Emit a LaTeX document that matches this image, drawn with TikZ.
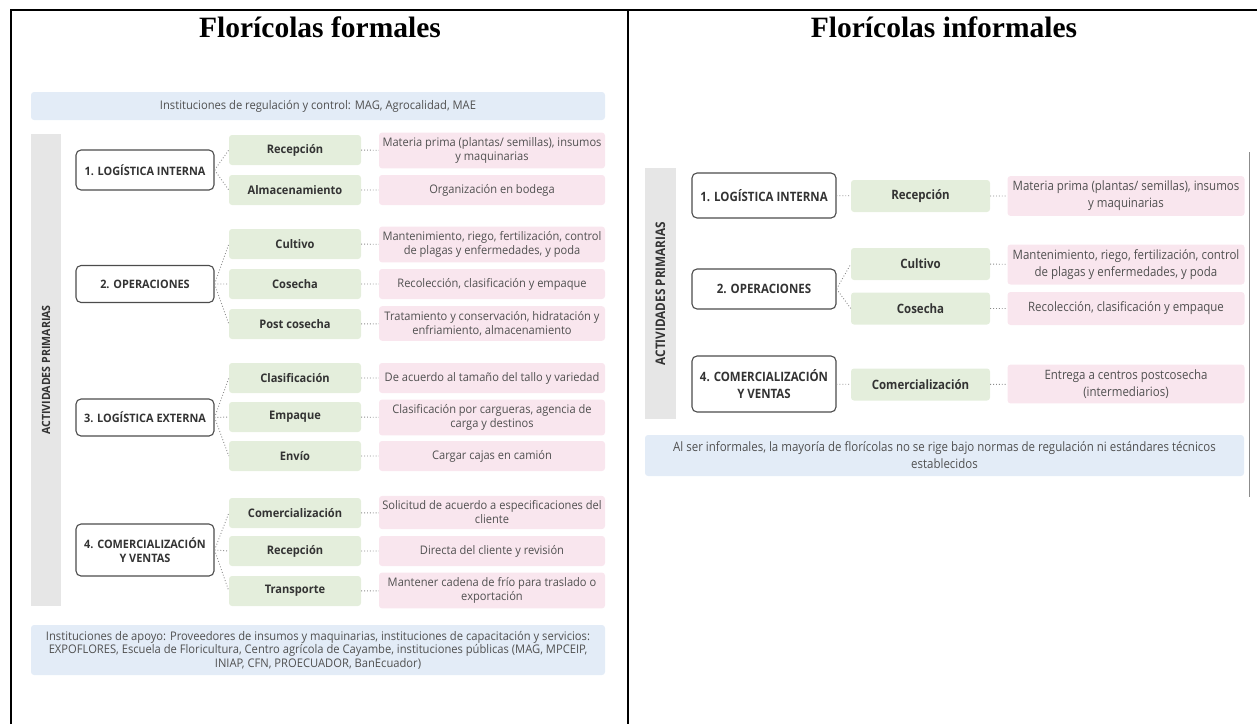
\documentclass[tikz,border=0pt]{standalone}
\usepackage{fontspec}
\setmainfont{Liberation Serif}
\newfontfamily\diagfont[FakeStretch=0.94]{Open Sans}
\newfontfamily\diagfontR[FakeStretch=0.89]{Open Sans}
\usepackage{tikz}
\definecolor{infoblue}{HTML}{E3ECF7}
\definecolor{actgreen}{HTML}{E4EEDC}
\definecolor{descpink}{HTML}{F9E6EE}
\definecolor{bandgray}{HTML}{E6E6E6}
\definecolor{inktext}{HTML}{333333}
\definecolor{desctext}{HTML}{505050}

\begin{document}
\begin{tikzpicture}[x=1pt, y=-1pt,
        etapa/.style={draw=black!70, line width=1.1pt, fill=white, rounded corners=5pt,
            minimum width=138pt, minimum height=37pt, align=center, text=inktext,
            font=\diagfont\bfseries\fontsize{11.6}{14}\selectfont},
        actividad/.style={fill=actgreen, rounded corners=3pt, minimum width=132pt,
            minimum height=30pt, text=inktext, font=\diagfont\bfseries\fontsize{11.8}{14}\selectfont},
        detalle/.style={fill=descpink, rounded corners=3pt, minimum width=226pt, inner xsep=2pt,
            inner ysep=5pt, minimum height=30pt, align=center, text=desctext,
            font=\diagfont\fontsize{11.8}{14}\selectfont},
        institucion/.style={fill=infoblue, rounded corners=3pt, align=center, text=desctext,
            font=\diagfont\fontsize{11.9}{13.5}\selectfont},
        banda/.style={fill=bandgray, rotate=90, minimum height=30pt, text=inktext,
            font=\diagfont\bfseries\fontsize{11.3}{12}\selectfont},
        derecha/.style={font=\diagfontR\fontsize{12.9}{17}\selectfont},
        enlace/.style={draw=black!45, line width=0.9pt, dash pattern=on 0.9pt off 2pt}]
    \useasboundingbox (0,0) rectangle (1257,724);

    \draw[line width=2pt] (11,724) -- (11,10) -- (1257,10);
    \draw[line width=2pt] (628,10) -- (628,724);
    \draw[black!45, line width=0.8pt] (1249,152) -- (1249,497);

    \node (tituloF) at (320,27) {\fontsize{29.5}{31}\selectfont\bfseries Florícolas formales};
    \node (tituloI) at (944,27) {\fontsize{29.5}{31}\selectfont\bfseries Florícolas informales};

    \node[institucion, minimum width=574pt, minimum height=28pt] (regF) at (318,106)
        {Instituciones de regulación y control: MAG, Agrocalidad, MAE};
    \node[banda, minimum width=472pt] (bandaF) at (46,370) {ACTIVIDADES PRIMARIAS};

    \node[etapa, minimum height=40pt] (logintF) at (145,170) {1. LOGÍSTICA INTERNA};
    \node[etapa] (operF) at (145,284) {2. OPERACIONES};
    \node[etapa] (logextF) at (145,417.5) {3. LOGÍSTICA EXTERNA};
    \node[etapa, minimum height=52pt] (comercF) at (145,550) {4. COMERCIALIZACIÓN\\Y VENTAS};

    \node[actividad] (recepF) at (295,150) {Recepción};
    \node[actividad] (almacF) at (295,190) {Almacenamiento};
    \node[actividad] (cultivoF) at (295,244) {Cultivo};
    \node[actividad] (cosechaF) at (295,284) {Cosecha};
    \node[actividad] (postF) at (295,324) {Post cosecha};
    \node[actividad] (clasifF) at (295,378) {Clasificación};
    \node[actividad] (empaqueF) at (295,417) {Empaque};
    \node[actividad] (envioF) at (295,456) {Envío};
    \node[actividad] (comerF) at (295,513) {Comercialización};
    \node[actividad] (recepcF) at (295,551) {Recepción};
    \node[actividad] (transpF) at (295,591) {Transporte};

    \node[detalle] (dRecepF) at (492,150.5) {Materia prima (plantas/ semillas), insumos\\y maquinarias};
    \node[detalle] (dAlmacF) at (492,190) {Organización en bodega};
    \node[detalle] (dCultivoF) at (492,244.5) {Mantenimiento, riego, fertilización, control\\de plagas y enfermedades, y poda};
    \node[detalle] (dCosechaF) at (492,284) {Recolección, clasificación y empaque};
    \node[detalle] (dPostF) at (492,323.5) {Tratamiento y conservación, hidratación y\\enfriamiento, almacenamiento};
    \node[detalle] (dClasifF) at (492,378) {De acuerdo al tamaño del tallo y variedad};
    \node[detalle] (dEmpaqueF) at (492,417.5) {Clasificación por cargueras, agencia de\\carga y destinos};
    \node[detalle] (dEnvioF) at (492,456) {Cargar cajas en camión};
    \node[detalle] (dComerF) at (492,512.5) {Solicitud de acuerdo a especificaciones del\\cliente};
    \node[detalle] (dRecepcF) at (492,551) {Directa del cliente y revisión};
    \node[detalle] (dTranspF) at (492,590.5) {Mantener cadena de frío para traslado o\\exportación};

    \draw[enlace] (logintF.east) -- (recepF.west) (logintF.east) -- (almacF.west);
    \draw[enlace] (operF.east) -- (cultivoF.west) (operF.east) -- (cosechaF.west)
        (operF.east) -- (postF.west);
    \draw[enlace] (logextF.east) -- (clasifF.west) (logextF.east) -- (empaqueF.west)
        (logextF.east) -- (envioF.west);
    \draw[enlace] (comercF.east) -- (comerF.west) (comercF.east) -- (recepcF.west)
        (comercF.east) -- (transpF.west);
    \draw[enlace] (recepF) -- (dRecepF) (almacF) -- (dAlmacF) (cultivoF) -- (dCultivoF)
        (cosechaF) -- (dCosechaF) (postF) -- (dPostF) (clasifF) -- (dClasifF)
        (empaqueF) -- (dEmpaqueF) (envioF) -- (dEnvioF) (comerF) -- (dComerF)
        (recepcF) -- (dRecepcF) (transpF) -- (dTranspF);

    \node[institucion, minimum width=574pt, minimum height=50pt] (apoyoF) at (318,650)
        {Instituciones de apoyo: Proveedores de insumos y maquinarias, instituciones de capacitación y servicios:\\
         EXPOFLORES, Escuela de Floricultura, Centro agrícola de Cayambe, instituciones públicas (MAG, MPCEIP,\\
         INIAP, CFN, PROECUADOR, BanEcuador)};

    \node[banda, minimum width=251pt, minimum height=31pt, font=\diagfontR\bfseries\fontsize{13.2}{14}\selectfont]
        (bandaI) at (660.5,293.5) {ACTIVIDADES PRIMARIAS};

    \node[etapa, derecha, minimum width=144pt, minimum height=45pt] (logintI) at (764,195.5)
        {\bfseries 1. LOGÍSTICA INTERNA};
    \node[etapa, derecha, minimum width=144pt, minimum height=40pt] (operI) at (764,289)
        {\bfseries 2. OPERACIONES};
    \node[etapa, derecha, minimum width=144pt, minimum height=56pt] (comercI) at (764,384)
        {\bfseries 4. COMERCIALIZACIÓN\\\bfseries Y VENTAS};

    \node[actividad, derecha, minimum width=139pt, minimum height=32pt] (recepI) at (920.5,196) {\bfseries Recepción};
    \node[actividad, derecha, minimum width=139pt, minimum height=32pt] (cultivoI) at (920.5,264) {\bfseries Cultivo};
    \node[actividad, derecha, minimum width=139pt, minimum height=32pt] (cosechaI) at (920.5,308.5) {\bfseries Cosecha};
    \node[actividad, derecha, minimum width=139pt, minimum height=32pt] (comerI) at (920.5,384.5) {\bfseries Comercialización};

    \node[detalle, derecha, minimum width=237pt, minimum height=33pt] (dRecepI) at (1126,196)
        {Materia prima (plantas/ semillas), insumos\\y maquinarias};
    \node[detalle, derecha, minimum width=237pt, minimum height=33pt] (dCultivoI) at (1126,264.5)
        {Mantenimiento, riego, fertilización, control\\de plagas y enfermedades, y poda};
    \node[detalle, derecha, minimum width=237pt, minimum height=33pt] (dCosechaI) at (1126,308.5)
        {Recolección, clasificación y empaque};
    \node[detalle, derecha, minimum width=237pt, minimum height=33pt] (dComerI) at (1126,384)
        {Entrega a centros postcosecha\\(intermediarios)};

    \draw[enlace] (logintI) -- (recepI) (operI.east) -- (cultivoI.west)
        (operI.east) -- (cosechaI.west) (comercI) -- (comerI);
    \draw[enlace] (recepI) -- (dRecepI) (cultivoI) -- (dCultivoI) (cosechaI) -- (dCosechaI)
        (comerI) -- (dComerI);

    \node[institucion, derecha, minimum width=599pt, minimum height=41pt] (normasI) at (944.5,455.5)
        {Al ser informales, la mayoría de florícolas no se rige bajo normas de regulación ni estándares técnicos\\
         establecidos};
\end{tikzpicture}
\end{document}
